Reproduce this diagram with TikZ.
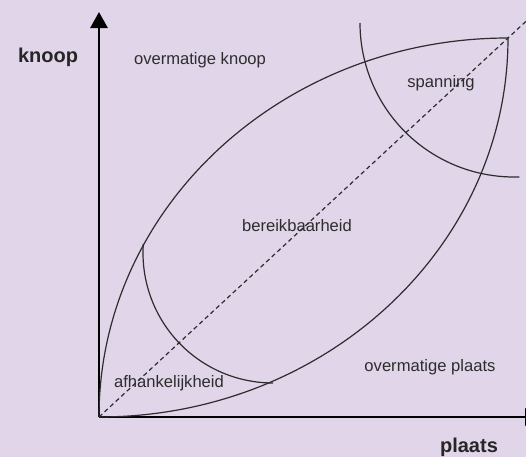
\documentclass[tikz,border=0pt]{standalone}
\usepackage{fontspec}
\setmainfont{Liberation Sans}
\usepackage{xcolor}
\usetikzlibrary{arrows.meta, calc}
\definecolor{lavendel}{RGB}{225,213,233}
\definecolor{inkt}{RGB}{45,45,45}

\begin{document}
\begin{tikzpicture}[
      x=0.5pt, y=0.5pt,
      lbl/.style={font=\fontsize{8.3}{10}\selectfont, text=inkt, inner sep=0pt},
      as/.style={font=\fontsize{10}{12}\selectfont\bfseries, text=black!85, inner sep=0pt},
      axis/.style={line width=1.4pt, draw=black},
      curve/.style={line width=0.6pt, draw=inkt},
      diag/.style={line width=0.6pt, draw=inkt, dash pattern=on 2.2pt off 1.6pt}
    ]
      \clip (0,0) rectangle (526,457);
      \fill[lavendel] (0,0) rectangle (526,457);
      % punten
      \coordinate (O) at (99,40);
      \coordinate (T) at (508,419);
      \coordinate (ytop) at (99,445);
      \coordinate (xend) at (541,40);
      \coordinate (cA) at (273,204);
      \coordinate (cS) at (514,434);
      % assen
      \draw[axis, -{Triangle[length=8pt, width=8.5pt]}] (O) -- (ytop);
      \draw[axis, -{Triangle[length=8pt, width=8.5pt]}] (O) -- (xend);
      % diagonaal
      \draw[diag] (O) -- ($(O)!1.06!(T)$);
      % bereikbaar gebied
      \draw[curve] (O) arc[start angle=180, end angle=90, x radius=204.5pt, y radius=189.5pt];
      \draw[curve] (O) arc[start angle=-90, end angle=0, x radius=204.5pt, y radius=189.5pt];
      % afhankelijkheid en spanning
      \draw[curve] ([shift={(176:65pt)}]cA) arc[start angle=176, end angle=270, radius=65pt];
      \draw[curve] ([shift={(180:77pt)}]cS) arc[start angle=180, end angle=272, radius=77pt];
      % teksten
      \node[as] (kn) at (48,400) {knoop};
      \node[as] (pl) at (469,10) {plaats};
      \node[lbl] (ok) at (200,397) {overmatige knoop};
      \node[lbl] (sp) at (441,374) {spanning};
      \node[lbl] (bb) at (297,231) {bereikbaarheid};
      \node[lbl] (ah) at (169,74) {afhankelijkheid};
      \node[lbl] (op) at (430,90) {overmatige plaats};
    \end{tikzpicture}
\end{document}
